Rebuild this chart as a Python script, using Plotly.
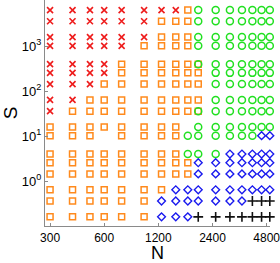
import plotly.graph_objects as go

# Data
N_values = [300, 400, 500, 600, 750, 1000, 1250, 1500, 1750, 2000, 2500, 3000, 3500, 4000, 4500, 5000]
S_values = [6400, 3600, 1600, 1024, 400, 256, 144, 64, 36, 16, 10.24, 4, 2.56, 1.44, 0.64, 0.36, 0.16]
# class per (S row, N column): x=cross, s=square, o=circle, d=diamond, p=plus, b=square+circle, .=none
grid_rows = [
    "xxxxxxxxsooooooo",
    "xxxxxxsssooooooo",
    "xxxxxxsssooooooo",
    "xxxxxssssooooooo",
    "xxxxsssssboooooo",
    "xxxxssssssoooooo",
    "xxxsssssssoooooo",
    "xxssssssssoooooo",
    "xssssssssboooooo",
    "ssssssss.ooooooo",
    "sss.ssssoooooodd",
    "ssssssssoooddddd",
    "sssssssssddddddd",
    "sssssssssddddddd",
    "sssssssddddddddd",
    "ssssssdddddddppp",
    "ssssssdddppppppp",
]
x_tick_vals = [300, 600, 1200, 2400, 4800]
x_tick_text = ["300", "600", "1200", "2400", "4800"]
y_tick_vals = [1, 10, 100, 1000]
y_tick_text = ["10<sup>0</sup>", "10<sup>1</sup>", "10<sup>2</sup>", "10<sup>3</sup>"]

styles = {
    "s": dict(symbol="square-open", color="#ff8a1c", size=6, lw=1.5),
    "o": dict(symbol="circle-open", color="#22e022", size=7, lw=1.5),
    "x": dict(symbol="x-thin-open", color="#ee1c1c", size=6, lw=1.6),
    "d": dict(symbol="diamond-open", color="#1a1aee", size=6, lw=1.4),
    "p": dict(symbol="cross-thin-open", color="#111111", size=7, lw=1.6),
}

pts = {k: ([], []) for k in styles}
for s, row in zip(S_values, grid_rows):
    for n, c in zip(N_values, row):
        if c == "b":
            targets = ["s", "o"]
        elif c == ".":
            targets = []
        else:
            targets = [c]
        for t in targets:
            pts[t][0].append(n)
            pts[t][1].append(s)

fig = go.Figure()
for k in ["s", "x", "o", "d", "p"]:
    st = styles[k]
    fig.add_trace(go.Scatter(
        x=pts[k][0], y=pts[k][1], mode="markers", cliponaxis=False,
        marker=dict(symbol=st["symbol"], size=st["size"],
                    line=dict(color=st["color"], width=st["lw"]), color=st["color"]),
        showlegend=False, hoverinfo="skip"))

fig.update_layout(
    width=280, height=263,
    margin=dict(l=45, r=10, t=0, b=37),
    paper_bgcolor="white", plot_bgcolor="white",
    font=dict(family="Liberation Sans, Arial, sans-serif", color="black", size=12),
)
fig.update_xaxes(
    type="log", range=[2.449, 3.70], automargin=False,
    tickvals=x_tick_vals, ticktext=x_tick_text,
    ticklabeloverflow="allow",
    showgrid=False, zeroline=False,
    showline=True, linecolor="#8a8a8a", linewidth=1.2,
    ticks="inside", ticklen=3, tickcolor="#8a8a8a",
    tickfont=dict(size=12),
    title=dict(text="N", font=dict(size=18), standoff=6),
)
fig.update_yaxes(
    type="log", range=[-1.0, 4.03], automargin=False,
    tickvals=y_tick_vals, ticktext=y_tick_text,
    ticklabeloverflow="allow",
    showgrid=False, zeroline=False,
    showline=True, linecolor="#8a8a8a", linewidth=1.2,
    ticks="inside", ticklen=3, tickcolor="#8a8a8a",
    tickfont=dict(size=13),
    title=dict(text="S", font=dict(size=19), standoff=4),
)

fig.write_html("out.html", config={"displayModeBar": False},
               post_script="document.body.style.margin='0';document.body.style.overflow='hidden';")
